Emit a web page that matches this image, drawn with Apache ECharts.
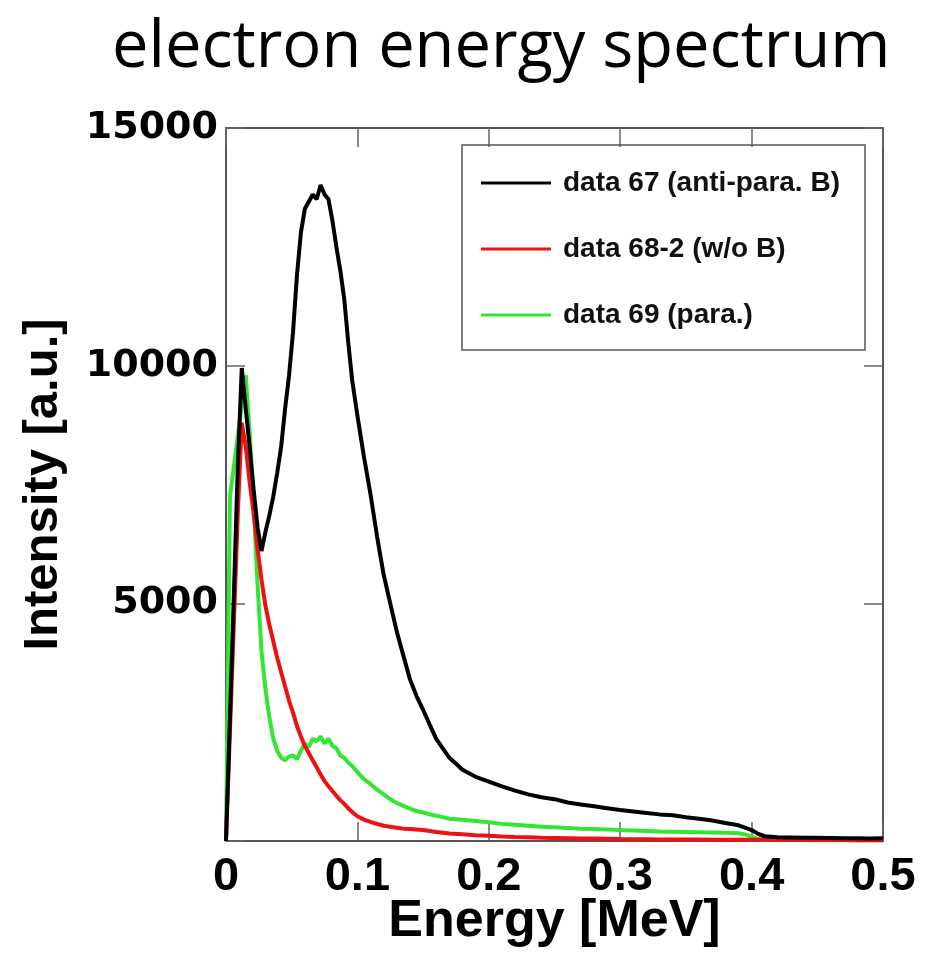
<!DOCTYPE html>
<html>
<head>
<meta charset="utf-8">
<script src="https://cdn.jsdelivr.net/npm/echarts@6/dist/echarts.min.js"></script>
<style>
  html, body { margin: 0; padding: 0; background: #fff; }
  #chart { width: 936px; height: 954px; }
</style>
</head>
<body>
<div id="chart"></div>
<script>
// ---- data ----
const titleText = 'electron energy spectrum';
const xName = 'Energy [MeV]';
const yName = 'Intensity [a.u.]';
const seriesNames = ['data 67 (anti-para. B)', 'data 68-2 (w/o B)', 'data 69 (para.)'];
const xTicks = [0, 0.1, 0.2, 0.3, 0.4, 0.5];
const yTicks = [0, 5000, 10000, 15000];

const energy = [
  0, 0.003, 0.006, 0.009, 0.012, 0.015, 0.018, 0.021, 0.024, 0.027,
  0.030, 0.033, 0.036, 0.039, 0.042, 0.045, 0.048, 0.051, 0.054, 0.057,
  0.060, 0.063, 0.066, 0.069, 0.072, 0.075, 0.078, 0.081, 0.084, 0.087,
  0.090, 0.093, 0.096,
  0.100, 0.105, 0.110, 0.115, 0.120, 0.125, 0.130, 0.135, 0.140, 0.145,
  0.150, 0.155, 0.160,
  0.17, 0.18, 0.19, 0.20, 0.21, 0.22, 0.23, 0.24, 0.25, 0.26, 0.27, 0.28,
  0.29, 0.30, 0.31, 0.32, 0.33, 0.34, 0.35, 0.36, 0.37, 0.38, 0.39,
  0.395, 0.400, 0.405, 0.410,
  0.42, 0.43, 0.44, 0.45, 0.46, 0.47, 0.48, 0.49, 0.50
];

const data67 = [
  0, 2600, 5200, 7900, 9950, 9100, 8300, 7400, 6600, 6100,
  6500, 6850, 7250, 7750, 8300, 9100, 9800, 10700, 11900, 12800,
  13300, 13450, 13600, 13500, 13800, 13600, 13500, 13050, 12500, 12000,
  11400, 10500, 9700,
  8950, 8080, 7290, 6400, 5600, 5000, 4400, 3900, 3400, 3050,
  2760, 2450, 2150,
  1750, 1500, 1350, 1250, 1150, 1060, 980, 920, 880, 810, 770, 730,
  690, 650, 620, 590, 560, 540, 500, 470, 430, 380, 330,
  280, 230, 150, 100,
  80, 75, 70, 70, 65, 60, 60, 55, 60
];

const data68 = [
  0, 2300, 4600, 6900, 8800, 8300, 7550, 6900, 6150, 5500,
  4950, 4550, 4200, 3850, 3550, 3250, 2950, 2700, 2420, 2200,
  2000, 1850, 1700, 1550, 1400, 1260, 1150, 1050, 950, 860,
  780, 690, 610,
  520, 450, 400, 360, 320, 300, 280, 260, 250, 240,
  230, 210, 190,
  160, 140, 120, 110, 95, 85, 80, 70, 65, 60, 55, 50,
  45, 40, 38, 36, 34, 32, 30, 30, 28, 28, 26,
  25, 25, 24, 24,
  22, 22, 20, 20, 20, 20, 18, 18, 18
];

const data69 = [
  0, 7240, 7880, 8520, 9160, 9800, 8600, 7100, 5400, 4000,
  3200, 2600, 2150, 1900, 1750, 1700, 1780, 1800, 1720, 1900,
  2050, 1980, 2150, 2100, 2200, 2050, 2150, 2000, 1950, 1800,
  1750, 1650, 1580,
  1450, 1300, 1200, 1080, 980, 880, 800, 740, 680, 630,
  600, 560, 530,
  470, 445, 420, 395, 360, 340, 320, 300, 290, 275, 260, 250,
  240, 230, 220, 210, 200, 195, 190, 185, 180, 175, 165,
  140, 90, 40, 25,
  20, 20, 20, 18, 18, 18, 16, 16, 16
];

const colors = ['#000000', '#ee1111', '#33e633'];

// ---- build chart ----
const pairs = (ys) => energy.map((x, i) => [x, ys[i]]);

const chart = echarts.init(document.getElementById('chart'), null, { renderer: 'canvas' });

const frameLine = { show: true, onZero: false, lineStyle: { color: '#555', width: 2 } };
const tickStyle = { show: true, inside: true, length: 19, lineStyle: { color: '#666', width: 1.5 } };

const option = {
  backgroundColor: '#ffffff',
  animation: false,
  title: {
    text: titleText,
    left: 107,
    top: 11,
    textStyle: { fontFamily: 'Open Sans', fontSize: 65, fontWeight: 'normal', color: '#000' }
  },
  grid: { left: 226, right: 53, top: 128, bottom: 113, containLabel: false, outerBoundsMode: 'none' },
  legend: {
    data: seriesNames,
    orient: 'vertical',
    left: 476,
    top: 164,
    icon: 'rect',
    itemWidth: 70,
    itemHeight: 3,
    itemGap: 38,
    textStyle: {
      fontFamily: 'Liberation Sans',
      fontWeight: 'bold',
      fontSize: 28,
      lineHeight: 28,
      color: '#111',
      padding: [0, 0, 0, 7]
    }
  },
  graphic: [{
    type: 'rect',
    shape: { x: 462, y: 145, width: 403, height: 205 },
    style: { fill: 'none', stroke: '#555', lineWidth: 1.5 },
    z: 10
  }],
  xAxis: [{
    type: 'value',
    min: xTicks[0],
    max: xTicks[xTicks.length - 1],
    interval: 0.1,
    position: 'bottom',
    name: xName,
    nameLocation: 'middle',
    nameGap: 55,
    nameMoveOverlap: false,
    nameTextStyle: { fontFamily: 'Liberation Sans', fontWeight: 'bold', fontSize: 52, color: '#000' },
    axisLine: frameLine,
    axisTick: tickStyle,
    splitLine: { show: false },
    axisLabel: {
      margin: 13,
      fontFamily: 'Liberation Sans', fontWeight: 'bold', fontSize: 47, color: '#000',
      formatter: (v) => String(Math.round(v * 10) / 10)
    }
  }, {
    type: 'value',
    min: xTicks[0],
    max: xTicks[xTicks.length - 1],
    interval: 0.1,
    position: 'top',
    axisLine: frameLine,
    axisTick: tickStyle,
    axisLabel: { show: false },
    splitLine: { show: false }
  }],
  yAxis: [{
    type: 'value',
    min: yTicks[0],
    max: yTicks[yTicks.length - 1],
    interval: 5000,
    position: 'left',
    name: yName,
    nameLocation: 'middle',
    nameGap: 158,
    nameMoveOverlap: false,
    nameRotate: 90,
    nameTextStyle: { fontFamily: 'Liberation Sans', fontWeight: 'bold', fontSize: 49, color: '#000' },
    axisLine: frameLine,
    axisTick: tickStyle,
    splitLine: { show: false },
    axisLabel: {
      margin: 8,
      fontFamily: 'DejaVu Sans', fontWeight: 'bold', fontSize: 38, color: '#000',
      formatter: (v) => (v === 0 ? '' : String(v))
    }
  }, {
    type: 'value',
    min: yTicks[0],
    max: yTicks[yTicks.length - 1],
    interval: 5000,
    position: 'right',
    axisLine: frameLine,
    axisTick: tickStyle,
    axisLabel: { show: false },
    splitLine: { show: false }
  }],
  series: [
    {
      name: seriesNames[0], type: 'line', data: pairs(data67), showSymbol: false,
      color: colors[0], lineStyle: { color: colors[0], width: 4 }, z: 5
    },
    {
      name: seriesNames[1], type: 'line', data: pairs(data68), showSymbol: false,
      color: colors[1], lineStyle: { color: colors[1], width: 4 }, z: 4
    },
    {
      name: seriesNames[2], type: 'line', data: pairs(data69), showSymbol: false,
      color: colors[2], lineStyle: { color: colors[2], width: 4 }, z: 3
    }
  ]
};

chart.setOption(option);
</script>
</body>
</html>
